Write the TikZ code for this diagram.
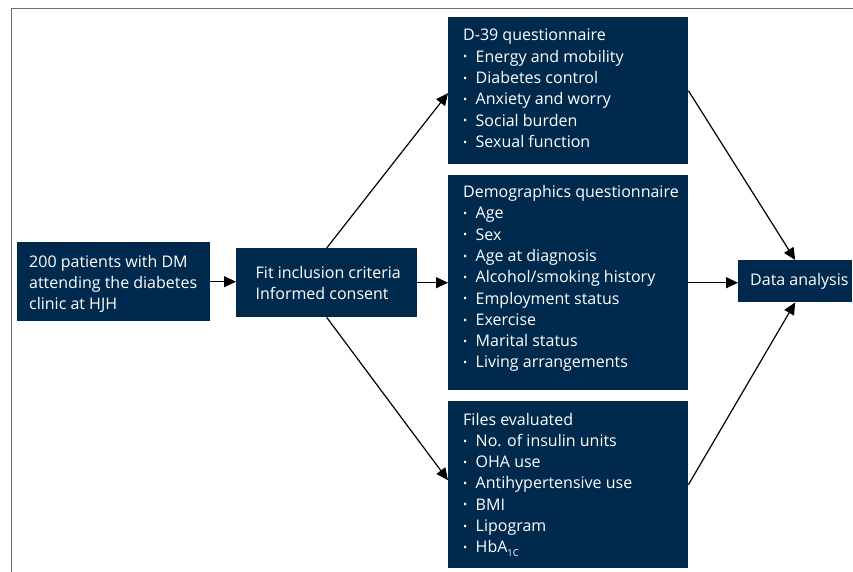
\documentclass[tikz,border=0pt]{standalone}
\usepackage{fontspec}
\setmainfont{Open Sans}
\usetikzlibrary{arrows.meta,calc}
\definecolor{navy}{RGB}{0,42,77}
\definecolor{framegray}{RGB}{110,110,110}
\newcommand{\itm}[1]{\makebox[12.5pt][l]{\raisebox{1.3pt}{\fontsize{11}{11}\selectfont\textbullet}}#1}
\begin{document}
\begin{tikzpicture}[x=1pt,y=-1pt,
  box/.style={fill=navy, draw=none, inner sep=0pt, anchor=north west},
  txt/.style={text=white, inner sep=0pt, anchor=base west, font=\fontsize{16}{21.3}\selectfont},
  arr/.style={line width=1.2pt, -{Triangle[length=12pt,width=11pt]}}]
\useasboundingbox (0,0) rectangle (853,572);
\draw[framegray, line width=1.5pt] (11.5,572) -- (11.5,8.5) -- (853,8.5);
% boxes
\node[box, minimum width=193pt, minimum height=79pt] (A) at (17,242) {};
\node[box, minimum width=181pt, minimum height=69pt] (B) at (236,248) {};
\node[box, minimum width=240pt, minimum height=147pt] (D39) at (448,17) {};
\node[box, minimum width=240pt, minimum height=215pt] (Demo) at (448,175) {};
\node[box, minimum width=240pt, minimum height=167pt] (Files) at (448,401) {};
\node[box, minimum width=114pt, minimum height=42pt] (DA) at (738,260) {};
% texts
\node[txt] (tA) at (29,267) {\begin{tabular}[t]{@{}l@{}}200 patients with DM\\attending the diabetes\\clinic at HJH\end{tabular}};
\node[txt] (tB) at (255.5,278.5) {\begin{tabular}[t]{@{}l@{}}Fit inclusion criteria\\Informed consent\end{tabular}};
\node[txt] (tD39) at (463,41) {\begin{tabular}[t]{@{}l@{}}D-39 questionnaire\\
\itm{Energy and mobility}\\\itm{Diabetes control}\\\itm{Anxiety and worry}\\\itm{Social burden}\\\itm{Sexual function}\end{tabular}};
\node[txt] (tDemo) at (463,197.5) {\begin{tabular}[t]{@{}l@{}}Demographics questionnaire\\
\itm{Age}\\\itm{Sex}\\\itm{Age at diagnosis}\\\itm{Alcohol/smoking history}\\\itm{Employment status}\\\itm{Exercise}\\\itm{Marital status}\\\itm{Living arrangements}\end{tabular}};
\node[txt] (tFiles) at (463,425) {\begin{tabular}[t]{@{}l@{}}Files evaluated\\
\itm{No. of insulin units}\\\itm{OHA use}\\\itm{Antihypertensive use}\\\itm{BMI}\\\itm{Lipogram}\\\itm{HbA\raisebox{-3.5pt}{\fontsize{9.5}{9.5}\selectfont 1C}}\end{tabular}};
\node[txt] (tDA) at (750,285.5) {Data analysis};
% connectors
\draw[arr] (A.east) -- (A.east -| B.west);
\draw[arr] (B.east) -- (B.east -| Demo.west);
\draw[arr] (B.north) -- ([yshift=-2.5pt]D39.west);
\draw[arr] (B.south) -- ([yshift=4.5pt]Files.west);
\draw[arr] (Demo.east) -- (Demo.east -| DA.west);
\draw[arr] (D39.east) -- (DA.north);
\draw[arr] (Files.east) -- (DA.south);
\end{tikzpicture}
\end{document}
